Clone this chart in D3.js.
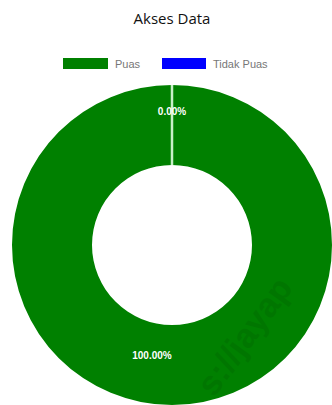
<!DOCTYPE html>
<html><head><meta charset="utf-8">
<script src="https://cdn.jsdelivr.net/npm/d3@7"></script>
<style>body{margin:0;background:#fff;overflow:hidden}</style>
</head><body>
<svg id="c" width="332" height="405"></svg>
<script>
const title = "Akses Data";
const categories = ["Puas", "Tidak Puas"];
const values = [100, 0];
const colors = ["#008000", "#0000ff"];

const svg = d3.select("#c");
const W = 332, H = 405;
const cx = 172, cy = 245, R = 160, r0 = 80;

// title
svg.append("text").attr("x", cx).attr("y", 24).attr("text-anchor", "middle")
  .attr("font-family", "Open Sans, sans-serif").attr("font-size", 15).attr("fill", "#111")
  .text(title);

// legend
const legend = svg.append("g").attr("font-family", "Liberation Sans, Arial, sans-serif").attr("font-size", 11);
const items = [{x: 63, w: 45}, {x: 162, w: 44}];
categories.forEach((c, i) => {
  legend.append("rect").attr("x", items[i].x).attr("y", 58).attr("width", items[i].w).attr("height", 11)
    .attr("fill", colors[i]);
  legend.append("text").attr("x", items[i].x + items[i].w + 7).attr("y", 67.5).attr("fill", "#777").text(c);
});

const pie = d3.pie().sort(null).value(d => d)(values);
const arc = d3.arc().innerRadius(r0).outerRadius(R);
const g = svg.append("g").attr("transform", `translate(${cx},${cy})`);

g.selectAll("path").data(pie).join("path")
  .attr("d", arc).attr("fill", (d, i) => colors[i])
  .attr("stroke", (d, i) => i === 0 ? "none" : "#c8f0c8").attr("stroke-width", 2.5);

// watermark
svg.append("text").attr("transform", "translate(214,398) rotate(-54)")
  .attr("font-family", "Liberation Sans, Arial, sans-serif").attr("font-weight", "bold").attr("font-size", 34)
  .attr("fill", "#003300").attr("opacity", 0.12).text("s://jayap");

// labels
const fmt = v => (v / d3.sum(values) * 100).toFixed(2) + "%";
const labelPos = [
  {r: 112, off: 0.18},
  {r: 134, off: 0}
];
pie.forEach((d, i) => {
  const a = (d.startAngle + d.endAngle) / 2 + labelPos[i].off;
  const x = Math.sin(a) * labelPos[i].r, y = -Math.cos(a) * labelPos[i].r;
  g.append("text").attr("x", x).attr("y", y + 4).attr("text-anchor", "middle")
    .attr("font-family", "Liberation Sans, Arial, sans-serif").attr("font-weight", "bold")
    .attr("font-size", 10).attr("fill", "#fff").text(fmt(d.value));
});
</script>
</body></html>
